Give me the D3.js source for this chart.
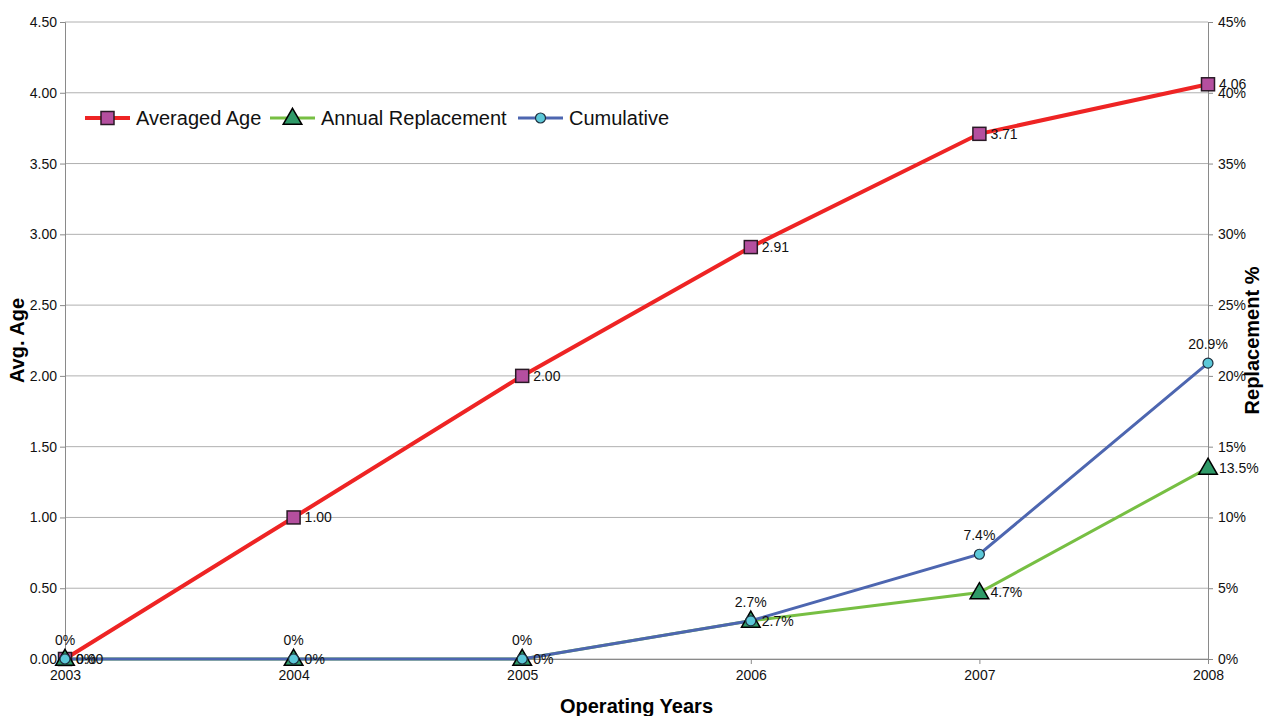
<!DOCTYPE html>
<html>
<head>
<meta charset="utf-8">
<script src="https://cdn.jsdelivr.net/npm/d3@7/dist/d3.min.js"></script>
<style>
  html, body { margin: 0; padding: 0; background: #fff; }
  svg { display: block; font-family: "Liberation Sans", Arial, sans-serif; }
</style>
</head>
<body>
<svg id="chart" width="1270" height="716"></svg>
<script>
// Fleet age and replacement by operating year
const years = ["2003", "2004", "2005", "2006", "2007", "2008"];
const averagedAge = [0.00, 1.00, 2.00, 2.91, 3.71, 4.06];
const annualReplacement = [0, 0, 0, 2.7, 4.7, 13.5];   // percent
const cumulative = [0, 0, 0, 2.7, 7.4, 20.9];          // percent
const leftTicks = [0, 0.5, 1, 1.5, 2, 2.5, 3, 3.5, 4, 4.5];
const rightTicks = [0, 5, 10, 15, 20, 25, 30, 35, 40, 45];

const svg = d3.select("#chart");
const m = { left: 65, right: 1208, top: 22, bottom: 659 };

const x = d3.scalePoint().domain(years).range([m.left, m.right]);
const yL = d3.scaleLinear().domain([0, 4.5]).range([m.bottom, m.top]);
const yR = d3.scaleLinear().domain([0, 45]).range([m.bottom, m.top]);

const colors = {
  age: "#ee2424", ageMarker: "#b44f9f",
  annual: "#77bf43", annualMarker: "#2f9a68",
  cum: "#4d66b0", cumMarker: "#5cc8d8"
};

// horizontal gridlines
svg.append("g").selectAll("line").data(leftTicks).join("line")
  .attr("x1", m.left).attr("x2", m.right)
  .attr("y1", d => yL(d)).attr("y2", d => yL(d))
  .attr("stroke", "#b0b0b0").attr("stroke-width", 1);

// axes
const styleAxis = g => {
  g.select(".domain").attr("stroke", "#8a8a8a");
  g.selectAll(".tick line").attr("stroke", "#8a8a8a");
  g.selectAll(".tick text").attr("font-size", 14).attr("fill", "#111")
    .attr("font-family", "Liberation Sans, Arial, sans-serif");
};
svg.append("g").attr("transform", `translate(${m.left},0)`)
  .call(d3.axisLeft(yL).tickValues(leftTicks).tickFormat(d3.format(".2f")).tickSizeOuter(0).tickSize(5).tickPadding(3))
  .call(styleAxis);
svg.append("g").attr("transform", `translate(${m.right},0)`)
  .call(d3.axisRight(yR).tickValues(rightTicks).tickFormat(d => d + "%").tickSizeOuter(0).tickSize(5).tickPadding(5))
  .call(styleAxis);
svg.append("g").attr("transform", `translate(0,${m.bottom})`)
  .call(d3.axisBottom(x).tickSizeOuter(0).tickSize(5).tickPadding(6))
  .call(styleAxis);

// axis titles
svg.append("text").attr("transform", `translate(24,${(m.top + m.bottom) / 2}) rotate(-90)`)
  .attr("text-anchor", "middle").attr("font-size", 20).attr("font-weight", "bold").text("Avg. Age");
svg.append("text").attr("transform", `translate(1259,${(m.top + m.bottom) / 2}) rotate(-90)`)
  .attr("text-anchor", "middle").attr("font-size", 20).attr("font-weight", "bold").text("Replacement %");
svg.append("text").attr("x", (m.left + m.right) / 2).attr("y", 713)
  .attr("text-anchor", "middle").attr("font-size", 20).attr("font-weight", "bold").text("Operating Years");

// marker drawers
const sq = 13;
function square(g, cx, cy) {
  g.append("rect").attr("x", cx - sq / 2).attr("y", cy - sq / 2).attr("width", sq).attr("height", sq)
    .attr("fill", colors.ageMarker).attr("stroke", "#2a1a26").attr("stroke-width", 1.5);
}
const tri = d3.symbol().type(d3.symbolTriangle).size(150);
function triangle(g, cx, cy) {
  g.append("path").attr("d", tri()).attr("transform", `translate(${cx},${cy + 1})`)
    .attr("fill", colors.annualMarker).attr("stroke", "#000").attr("stroke-width", 1.5);
}
function circle(g, cx, cy) {
  g.append("circle").attr("cx", cx).attr("cy", cy).attr("r", 5)
    .attr("fill", colors.cumMarker).attr("stroke", "#1e2e3e").attr("stroke-width", 1.2);
}

const line = (ys, scale) => d3.line().x((d, i) => x(years[i])).y(d => scale(d))(ys);

// series lines
svg.append("path").attr("d", line(averagedAge, yL)).attr("fill", "none")
  .attr("stroke", colors.age).attr("stroke-width", 4);
svg.append("path").attr("d", line(annualReplacement, yR)).attr("fill", "none")
  .attr("stroke", colors.annual).attr("stroke-width", 3);
svg.append("path").attr("d", line(cumulative, yR)).attr("fill", "none")
  .attr("stroke", colors.cum).attr("stroke-width", 3);

// markers
const mk = svg.append("g");
averagedAge.forEach((v, i) => square(mk, x(years[i]), yL(v)));
annualReplacement.forEach((v, i) => triangle(mk, x(years[i]), yR(v)));
cumulative.forEach((v, i) => circle(mk, x(years[i]), yR(v)));

// data labels
const lb = svg.append("g").attr("font-size", 14).attr("fill", "#111");
averagedAge.forEach((v, i) => lb.append("text")
  .attr("x", x(years[i]) + 11).attr("y", yL(v) + 5).text(v.toFixed(2)));
annualReplacement.forEach((v, i) => lb.append("text")
  .attr("x", x(years[i]) + 11).attr("y", yR(v) + 5).text(v === 0 ? "0%" : v.toFixed(1) + "%"));
cumulative.forEach((v, i) => lb.append("text")
  .attr("x", x(years[i])).attr("y", yR(v) - 14).attr("text-anchor", "middle")
  .text(v === 0 ? "0%" : v.toFixed(1) + "%"));

// legend
const legend = svg.append("g").attr("font-size", 20);
const items = [
  { label: "Averaged Age", color: colors.age, w: 4, draw: square, x0: 85 },
  { label: "Annual Replacement", color: colors.annual, w: 3, draw: triangle, x0: 270 },
  { label: "Cumulative", color: colors.cum, w: 3, draw: circle, x0: 518 }
];
const ly = 118;
items.forEach(it => {
  legend.append("line").attr("x1", it.x0).attr("x2", it.x0 + 45).attr("y1", ly).attr("y2", ly)
    .attr("stroke", it.color).attr("stroke-width", it.w);
  it.draw(legend, it.x0 + 22.5, ly);
  legend.append("text").attr("x", it.x0 + 51).attr("y", ly + 7).attr("fill", "#111").text(it.label);
});
</script>
</body>
</html>
